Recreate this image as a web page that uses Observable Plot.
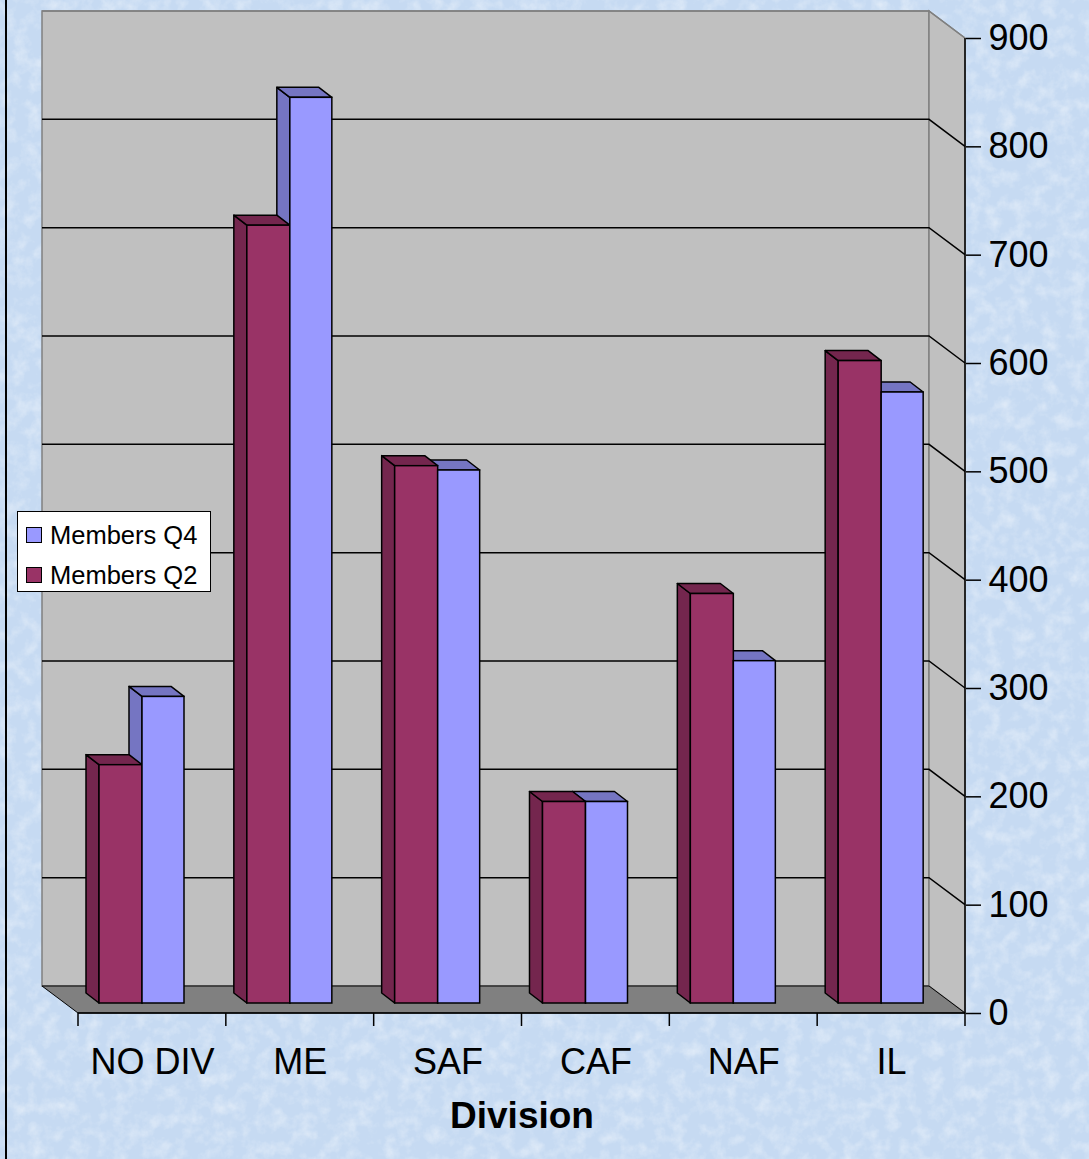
<!DOCTYPE html>
<html><head><meta charset="utf-8">
<script src="https://cdn.jsdelivr.net/npm/d3@7"></script>
<script src="https://cdn.jsdelivr.net/npm/@observablehq/plot@0.6"></script>
<style>
html,body{margin:0;padding:0;}
body{background:#cddff5;width:1089px;height:1159px;overflow:hidden;font-family:Arial,"Liberation Sans",sans-serif;}
#wrap{position:relative;width:1089px;height:1159px;}
#texture{position:absolute;left:0;top:0;}
#chart{position:absolute;left:0;top:0;}
#border{position:absolute;left:5px;top:0;width:2px;height:1159px;background:#000;}
#legend{position:absolute;left:17px;top:511px;width:194px;height:81px;box-sizing:border-box;border:1.5px solid #000;background:#fff;}
#legend .item{position:absolute;left:8px;height:40px;display:flex;align-items:center;font-size:25.5px;color:#000;white-space:nowrap;}
#legend .sw{display:inline-block;width:14px;height:14px;border:1px solid #000;margin-right:8px;}
</style></head><body>
<div id="wrap">
<svg id="texture" width="1089" height="1159">
  <filter id="mottle" x="0" y="0" width="100%" height="100%">
    <feTurbulence type="fractalNoise" baseFrequency="0.07" numOctaves="4" seed="7" result="n"/>
    <feColorMatrix in="n" type="matrix" values="0 0 0 0 1  0 0 0 0 1  0 0 0 0 1  0 0 0 -1.8 1.05"/>
  </filter>
  <rect width="1089" height="1159" fill="#c6daf2"/>
  <rect width="1089" height="1159" filter="url(#mottle)" opacity="0.45"/>
</svg>
<div id="chart"></div><div id="border"></div><div id="legend"></div></div>
<script>
// ---- data ----
const divisions = ["NO DIV", "ME", "SAF", "CAF", "NAF", "IL"];
const membersQ2 = [220, 718, 496, 186, 378, 593];
const membersQ4 = [283, 836, 492, 186, 316, 564];
const seriesNames = ["Members Q2", "Members Q4"];
const yTicks = [0, 100, 200, 300, 400, 500, 600, 700, 800, 900];
const legendOrder = ["Members Q4", "Members Q2"];
const axisTitle = "Division";

// ---- styles ----
const frontColor = {"Members Q2": "#993366", "Members Q4": "#9999ff"};
const sideColor = {"Members Q2": "#74264e", "Members Q4": "#7575c2"};
const WDX = -36, WDY = -27;   // wall depth offset
const BDX = -13, BDY = -10;   // bar depth offset
const slot = {"Members Q2": [34, 77], "Members Q4": [77, 119]}; // within band (px)

const rows = divisions.flatMap((d, i) => [
  {division: d, series: seriesNames[0], value: membersQ2[i]},
  {division: d, series: seriesNames[1], value: membersQ4[i]}
]);

function geom(x, y) {
  const bw = x(divisions[1]) - x(divisions[0]);
  const xl = x(divisions[0]);
  const xr = x(divisions[divisions.length - 1]) + bw;
  return {bw, xl, xr, y0: y(0), yt: y(yTicks[yTicks.length - 1])};
}

function walls(index, {x, y}) {
  const {xl, xr, y0, yt} = geom(x, y);
  const g = d3.create("svg:g");
  g.append("rect").attr("x", xl + WDX).attr("y", yt + WDY).attr("width", xr - xl).attr("height", y0 - yt)
    .attr("fill", "#c0c0c0").attr("stroke", "#808080").attr("stroke-width", 1.5);
  g.append("path").attr("d", `M${xr + WDX},${yt + WDY}L${xr},${yt}L${xr},${y0}L${xr + WDX},${y0 + WDY}Z`)
    .attr("fill", "#c0c0c0").attr("stroke", "#808080").attr("stroke-width", 1.5);
  for (const t of yTicks.slice(1)) {
    g.append("path").attr("d", `M${xl + WDX},${y(t) + WDY}H${xr + WDX}L${xr},${y(t)}`)
      .attr("fill", "none").attr("stroke", t === yTicks[yTicks.length - 1] ? "#808080" : "#000").attr("stroke-width", 1.5);
  }
  g.append("path").attr("d", `M${xl + WDX},${y0 + WDY}H${xr + WDX}L${xr},${y0}H${xl}Z`)
    .attr("fill", "#808080").attr("stroke", "#000").attr("stroke-width", 1);
  return g.node();
}

function barSides(index, {x, y}) {
  const g = d3.create("svg:g").attr("stroke", "#000").attr("stroke-width", 1.5).attr("stroke-linejoin", "round");
  for (const s of ["Members Q4", "Members Q2"]) {
    for (const d of rows.filter(r => r.series === s)) {
      const [a, b] = slot[s];
      const x1 = x(d.division) + a + BDX, x2 = x(d.division) + b + BDX;
      const yv = y(d.value) + BDY, yb = y(0) + BDY;
      g.append("path").attr("fill", sideColor[s])
        .attr("d", `M${x1},${yb}L${x1},${yv}L${x1 + BDX},${yv + BDY}L${x1 + BDX},${yb + BDY}Z`);
      g.append("path").attr("fill", sideColor[s])
        .attr("d", `M${x1},${yv}L${x2},${yv}L${x2 + BDX},${yv + BDY}L${x1 + BDX},${yv + BDY}Z`);
    }
  }
  return g.node();
}

function axesLines(index, {x, y}) {
  const {bw, xl, xr, y0, yt} = geom(x, y);
  const g = d3.create("svg:g").attr("stroke", "#000").attr("stroke-width", 1.5).attr("fill", "none");
  g.append("path").attr("d", `M${xr},${yt}V${y0}`);
  g.append("path").attr("d", `M${xl},${y0}H${xr}`);
  for (let i = 0; i <= divisions.length; i++) {
    const bx = xl + i * bw;
    g.append("path").attr("d", `M${bx},${y0}V${y0 + 13}`);
  }
  return g.node();
}

const bw0 = (965 - 78) / divisions.length;

const chart = Plot.plot({
  width: 1089,
  height: 1159,
  marginLeft: 78,
  marginRight: 124,
  marginTop: 38,
  marginBottom: 146,
  style: {background: "transparent", fontFamily: "Arial, 'Liberation Sans', sans-serif", overflow: "visible", color: "#000"},
  x: {type: "band", domain: divisions, padding: 0, round: false},
  y: {domain: [0, 900]},
  marks: [
    walls,
    barSides,
    ...seriesNames.map(s => Plot.barY(rows.filter(r => r.series === s), {
      x: "division", y: "value", fill: frontColor[s], stroke: "#000", strokeWidth: 1.5,
      insetLeft: slot[s][0], insetRight: bw0 - slot[s][1], dx: BDX, dy: BDY
    })),
    axesLines,
    Plot.axisY(yTicks, {anchor: "right", tickSize: 15, tickPadding: 8, fontSize: 36, strokeWidth: 1.5, label: null}),
    Plot.axisX({tickSize: 0, tickPadding: 35, fontSize: 36, label: null}),
    Plot.text([axisTitle], {text: d => d, frameAnchor: "bottom", dy: 114, fontSize: 37, fontWeight: "bold"})
  ]
});
document.getElementById("chart").appendChild(chart);

// legend
const legend = document.getElementById("legend");
legendOrder.forEach((s, i) => {
  const item = document.createElement("div");
  item.className = "item";
  item.style.top = (3 + i * 40) + "px";
  const sw = document.createElement("span");
  sw.className = "sw";
  sw.style.background = frontColor[s];
  item.appendChild(sw);
  item.appendChild(document.createTextNode(s));
  legend.appendChild(item);
});
</script>
</body></html>
